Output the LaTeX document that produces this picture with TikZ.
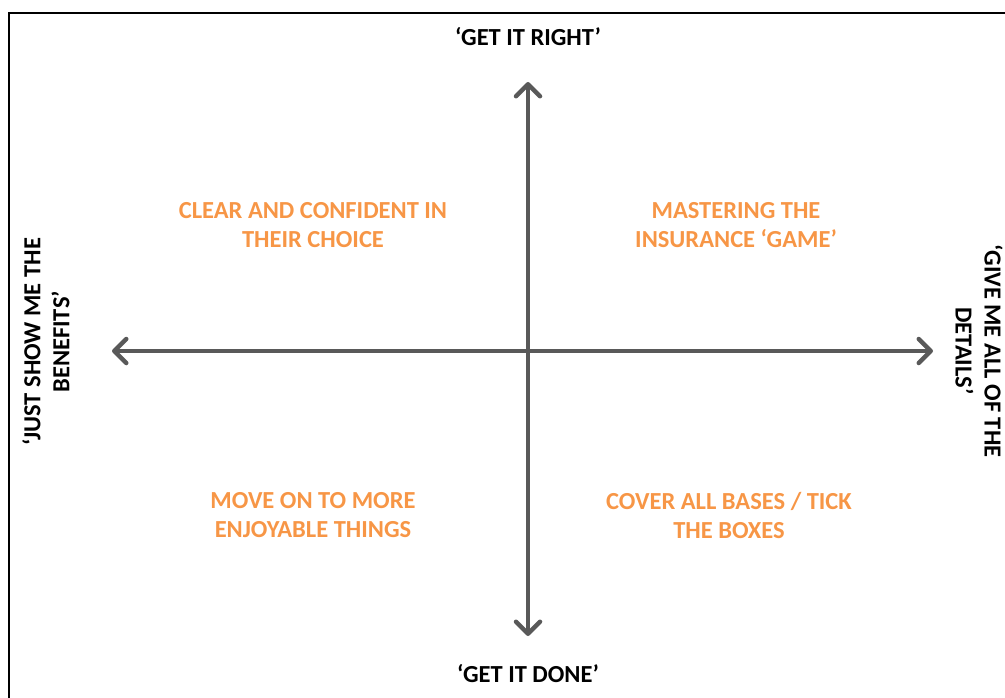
\documentclass[tikz,border=0pt]{standalone}
\usepackage{fontspec}
\setmainfont{Carlito}
\usetikzlibrary{arrows.meta}
\definecolor{axisgray}{HTML}{595959}
\definecolor{quadorange}{HTML}{F79646}
\tikzset{barb/.tip={Straight Barb[length=12pt, width=24pt, line cap=round, line join=round]}}
\begin{document}
\begin{tikzpicture}[x=1pt, y=-1pt]
\tikzstyle{every node}=[align=center, inner sep=0pt, font=\fontsize{24.5}{29}\selectfont\bfseries];
\tikzstyle{axis}=[draw=axisgray, line width=4.5pt, barb-barb];
\tikzstyle{quad}=[text=quadorange];
\useasboundingbox (0,0) rectangle (1005,698);
\draw[line width=2pt] (9,720) -- (9,13) -- (1030,13); % frame
\coordinate (n) at (528,82);
\coordinate (s) at (528,636);
\coordinate (w) at (112,351);
\coordinate (e) at (933,351);
\draw[axis] (w) -- (e); % axes
\draw[axis] (s) -- (n);
\node (right) at (528,37) {‘GET IT RIGHT’};
\node (done) at (528,674) {‘GET IT DONE’};
\node [rotate=90] (benefits) at (46,342) {‘JUST SHOW ME THE\\BENEFITS’};
\node [rotate=-90] (details) at (979,351) {‘GIVE ME ALL OF THE\\DETAILS’};
\node [quad] (clear) at (313,225) {CLEAR AND CONFIDENT IN\\THEIR CHOICE};
\node [quad] (master) at (736,225) {MASTERING THE\\INSURANCE ‘GAME’};
\node [quad] (move) at (313,515) {MOVE ON TO MORE\\ENJOYABLE THINGS};
\node [quad] (cover) at (729,515) {COVER ALL BASES / TICK\\THE BOXES};
\end{tikzpicture}
\end{document}
